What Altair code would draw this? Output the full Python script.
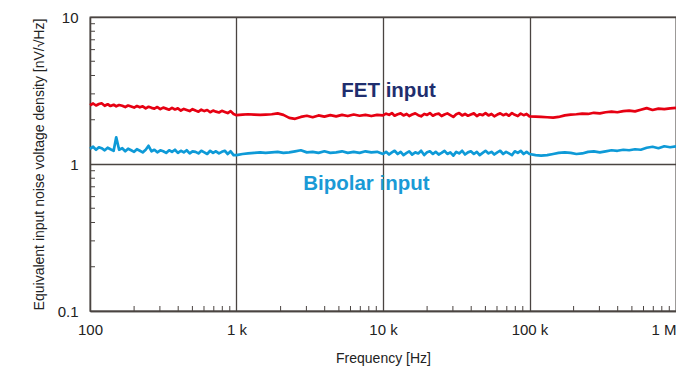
import altair as alt
import pandas as pd

# Frequency sweep [Hz]
FREQ = [
    100, 105, 110, 115, 120, 126, 132, 138, 145, 151, 158, 166, 174, 182, 191,
    200, 209, 219, 229, 240, 251, 263, 275, 288, 302, 316, 331, 347, 363, 380,
    398, 417, 437, 457, 479, 501, 525, 550, 575, 603, 631, 661, 692, 724, 759,
    794, 832, 871, 912, 955,
    1000, 1100, 1200, 1320, 1450, 1580, 1740, 1910, 2090, 2290, 2510, 2750, 3020,
    3310, 3630, 3980, 4370, 4790, 5250, 5750, 6310, 6920, 7590, 8320, 9120,
    10000, 10500, 11000, 11500, 12000, 12600, 13200, 13800, 14500, 15100, 15800,
    16600, 17400, 18200, 19100, 20000, 20900, 21900, 22900, 24000, 25100, 26300,
    27500, 28800, 30200, 31600, 33100, 34700, 36300, 38000, 39800, 41700, 43700,
    45700, 47900, 50100, 52500, 55000, 57500, 60300, 63100, 66100, 69200, 72400,
    75900, 79400, 83200, 87100, 91200, 95500,
    100000, 110000, 120000, 132000, 145000, 158000, 174000, 191000, 209000, 229000,
    251000, 275000, 302000, 331000, 363000, 398000, 437000, 479000, 525000, 575000,
    631000, 692000, 759000, 832000, 912000, 1000000,
]

FET = [
    2.51, 2.58, 2.50, 2.56, 2.59, 2.49, 2.55, 2.48, 2.53, 2.47, 2.52, 2.49, 2.44, 2.50, 2.46,
    2.42, 2.48, 2.43, 2.47, 2.39, 2.45, 2.41, 2.38, 2.44, 2.36, 2.42, 2.38, 2.34, 2.41, 2.35,
    2.39, 2.31, 2.37, 2.33, 2.29, 2.36, 2.31, 2.27, 2.34, 2.29, 2.33, 2.25, 2.31, 2.27, 2.24,
    2.30, 2.26, 2.22, 2.29, 2.19,
    2.15, 2.17, 2.18, 2.17, 2.16, 2.17, 2.18, 2.21, 2.16, 2.06, 2.03, 2.09, 2.13,
    2.08, 2.14, 2.10, 2.15, 2.11, 2.16, 2.12, 2.17, 2.13, 2.16, 2.12, 2.16,
    2.14, 2.20, 2.16, 2.22, 2.13, 2.18, 2.21, 2.14, 2.19, 2.12, 2.17,
    2.21, 2.15, 2.11, 2.19, 2.16, 2.22, 2.13, 2.18, 2.20, 2.12, 2.17,
    2.21, 2.15, 2.09, 2.18, 2.22, 2.14, 2.19, 2.13, 2.17, 2.21, 2.12,
    2.18, 2.15, 2.22, 2.14, 2.19, 2.11, 2.17, 2.21, 2.15, 2.19, 2.13,
    2.22, 2.16, 2.12, 2.20, 2.15, 2.19,
    2.11, 2.10, 2.09, 2.08, 2.07, 2.09, 2.14, 2.17, 2.18, 2.20,
    2.19, 2.23, 2.21, 2.25, 2.27, 2.25, 2.29, 2.31, 2.28, 2.34,
    2.40, 2.33, 2.38, 2.36, 2.39, 2.41,
]

BIPOLAR = [
    1.27, 1.31, 1.25, 1.30, 1.28, 1.24, 1.29, 1.26, 1.23, 1.52, 1.25, 1.28, 1.22, 1.27, 1.24,
    1.21, 1.26, 1.23, 1.20, 1.25, 1.33, 1.22, 1.25, 1.20, 1.24, 1.22, 1.19, 1.24, 1.21, 1.25,
    1.19, 1.23, 1.20, 1.24, 1.18, 1.22, 1.21, 1.18, 1.23, 1.20, 1.17, 1.23, 1.19, 1.22, 1.18,
    1.21, 1.23, 1.17, 1.22, 1.15,
    1.15, 1.17, 1.18, 1.19, 1.20, 1.19, 1.20, 1.21, 1.19, 1.20, 1.22, 1.24, 1.20,
    1.21, 1.19, 1.22, 1.19, 1.20, 1.22, 1.19, 1.21, 1.19, 1.22, 1.20, 1.21,
    1.17, 1.21, 1.16, 1.20, 1.23, 1.17, 1.21, 1.15, 1.19, 1.22, 1.16,
    1.20, 1.18, 1.23, 1.15, 1.20, 1.22, 1.17, 1.21, 1.16, 1.19, 1.23,
    1.17, 1.20, 1.14, 1.21, 1.18, 1.23, 1.16, 1.20, 1.22, 1.17, 1.21,
    1.15, 1.19, 1.23, 1.18, 1.21, 1.16, 1.20, 1.23, 1.17, 1.21, 1.18,
    1.15, 1.22, 1.19, 1.23, 1.17, 1.21,
    1.17, 1.15, 1.14, 1.15, 1.17, 1.19, 1.20, 1.19, 1.17, 1.18,
    1.21, 1.22, 1.20, 1.22, 1.24, 1.23, 1.25, 1.24, 1.26, 1.25,
    1.29, 1.31, 1.28, 1.32, 1.30, 1.32,
]

assert len(FREQ) == len(FET) == len(BIPOLAR), (len(FREQ), len(FET), len(BIPOLAR))

SERIES = ["FET input", "Bipolar input"]
COLORS = ["#e60012", "#0e9ad7"]
LABEL_COLORS = ["#1f2e6e", "#1a9ad6"]
LABEL_F = [10900, 7700]
LABEL_V = [3.13, 0.73]

X_TICKS = [100, 1000, 10000, 100000, 1000000]
Y_TICKS = [0.1, 1, 10]
MINOR_X = [m * d for d in [100, 1000, 10000, 100000] for m in range(2, 10)]
MINOR_Y = [m * d for d in [0.1, 1] for m in range(2, 10)]

rows = []
for f, a, b in zip(FREQ, FET, BIPOLAR):
    rows.append({"f": f, "v": a, "s": SERIES[0]})
    rows.append({"f": f, "v": b, "s": SERIES[1]})
df = pd.DataFrame(rows)

W, H = 586, 294
FG = "#4a4441"
FONT = "Liberation Sans"

xscale = alt.Scale(type="log", domain=[100, 1000000], nice=False)
yscale = alt.Scale(type="log", domain=[0.1, 10], nice=False)

lines = alt.Chart(df).mark_line(strokeWidth=2.7, strokeJoin="round").encode(
    x=alt.X("f:Q", scale=xscale, axis=alt.Axis(
        title="Frequency [Hz]", values=X_TICKS, grid=True, gridColor=FG, gridWidth=1.3,
        gridOpacity=1, ticks=False, tickSize=0, domainColor=FG, domainWidth=1.3,
        labelExpr="datum.value >= 1000000 ? '1 M' : datum.value >= 1000 ? (datum.value/1000) + ' k' : '' + datum.value",
        labelAlign={"condition": {"test": "datum.value >= 1000000", "value": "right"}, "value": "center"},
        labelFlush=False, labelPadding=11, labelFontSize=15, labelColor="#222",
        titleFontSize=14, titleFontWeight="normal", titleColor="#222", titlePadding=14,
    )),
    y=alt.Y("v:Q", scale=yscale, axis=alt.Axis(
        title="Equivalent input noise voltage density [nV/\u221aHz]", values=Y_TICKS,
        grid=True, gridColor=FG, gridWidth=1.3, gridOpacity=1, ticks=False, tickSize=0,
        domainColor=FG, domainWidth=1.3, format="~g", labelFlush=False, labelPadding=12,
        labelFontSize=15, labelColor="#222", titleFontSize=14, titleFontWeight="normal",
        titleColor="#222", titlePadding=11,
    )),
    color=alt.Color("s:N", scale=alt.Scale(domain=SERIES, range=COLORS), legend=None),
    detail="s:N",
)

minor_x = alt.Chart(pd.DataFrame({"f": MINOR_X})).mark_rule(color=FG, strokeWidth=1).encode(
    x=alt.X("f:Q", scale=xscale), y=alt.value(H), y2=alt.value(H - 5)
)
minor_y = alt.Chart(pd.DataFrame({"v": MINOR_Y})).mark_rule(color=FG, strokeWidth=1).encode(
    y=alt.Y("v:Q", scale=yscale), x=alt.value(0), x2=alt.value(5)
)

labels_df = pd.DataFrame({"f": LABEL_F, "v": LABEL_V, "t": SERIES, "c": LABEL_COLORS})
labels = alt.Chart(labels_df).mark_text(
    fontSize=20.5, fontWeight="bold", font=FONT, baseline="middle", align="center"
).encode(
    x=alt.X("f:Q", scale=xscale), y=alt.Y("v:Q", scale=yscale),
    text="t:N", color=alt.Color("c:N", scale=None),
)

chart = alt.layer(lines, minor_x, minor_y, labels).properties(
    width=W, height=H,
    autosize=alt.AutoSizeParams(type="none"),
    padding={"left": 82, "top": 9, "right": 0, "bottom": 59},
).configure(font=FONT).configure_view(stroke=FG, strokeWidth=1.3)

chart.save("out.html", embed_options={"renderer": "svg", "actions": False})
